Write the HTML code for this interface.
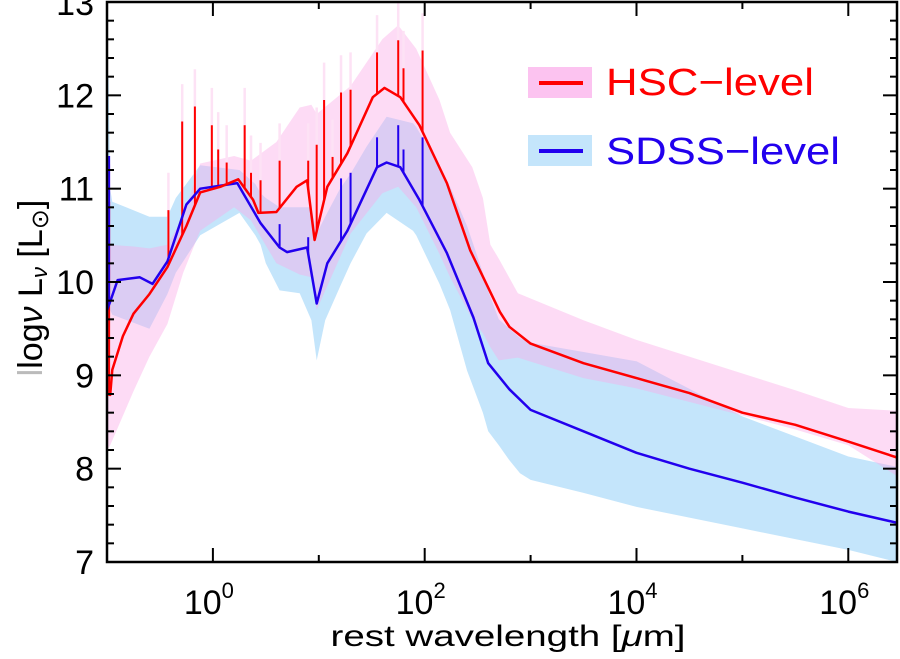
<!DOCTYPE html>
<html><head><meta charset="utf-8"><style>
html,body{margin:0;padding:0;background:#fff;}
svg{display:block;font-family:"Liberation Sans",sans-serif;}
</style></head><body>
<svg id="chart" width="900" height="659" viewBox="0 0 900 659">
<g id="bands"></g>
<g id="spikes"></g>
<g id="lines"></g>
<g id="axes"></g>
<g>
  <rect x="528" y="67" width="64" height="31" fill="#fcc3f0"/>
  <line x1="539" y1="83" x2="583" y2="83" stroke="#ff0000" stroke-width="4"/>
  <text x="606" y="95" font-size="38" fill="#ff0000" textLength="208" lengthAdjust="spacingAndGlyphs">HSC−level</text>
  <rect x="528" y="135" width="64" height="31" fill="#c4e5fb"/>
  <line x1="539" y1="151" x2="583" y2="151" stroke="#2200ee" stroke-width="4"/>
  <text x="606" y="164" font-size="38" fill="#2200ee" textLength="234" lengthAdjust="spacingAndGlyphs">SDSS−level</text>
</g>
<text x="508" y="646" font-size="30" text-anchor="middle" fill="#000" textLength="355" lengthAdjust="spacingAndGlyphs">rest wavelength [<tspan font-style="italic">μ</tspan>m]</text>
<text transform="translate(42,288) rotate(-90)" font-size="34" text-anchor="middle" fill="#000"><tspan fill="#bbb">l</tspan>log<tspan font-style="italic">ν</tspan> L<tspan font-size="22" dy="5" font-style="italic">ν</tspan><tspan dy="-5"> [L</tspan><tspan font-size="24" dy="6">⊙</tspan><tspan dy="-6">]</tspan></text>
</svg>
<script>
// log10(wavelength/µm) grids and values
const hscX = [-1,-0.97,-0.95,-0.85,-0.75,-0.6,-0.43,-0.25,-0.12,0.07,0.24,0.38,0.43,0.6,0.79,0.89,0.96,1.08,1.27,1.51,1.62,1.77,1.95,2.21,2.43,2.71,2.8,3.0,3.5,4.0,4.5,5.0,5.5,6.0,6.46];
const hscY = [8.8,8.79,9.06,9.42,9.66,9.87,10.16,10.6,10.96,11.02,11.1,10.88,10.74,10.75,11.02,11.09,10.45,11.02,11.38,11.98,12.08,11.98,11.68,11.06,10.34,9.68,9.52,9.34,9.13,8.97,8.81,8.6,8.47,8.29,8.12];
const sdssX = [-1,-0.97,-0.9,-0.69,-0.57,-0.43,-0.25,-0.12,0.23,0.45,0.63,0.7,0.89,0.98,1.08,1.27,1.55,1.64,1.77,1.95,2.21,2.46,2.6,2.8,3.0,3.5,4.0,4.5,5.0,5.5,6.0,6.46];
const sdssY = [9.7,9.79,10.02,10.05,9.98,10.22,10.83,11.0,11.06,10.63,10.37,10.32,10.37,9.77,10.2,10.55,11.23,11.28,11.23,10.88,10.31,9.62,9.13,8.85,8.63,8.4,8.17,8.0,7.85,7.69,7.54,7.42];
const hscBandX = [-1,-0.97,-0.75,-0.6,-0.43,-0.28,-0.12,0.2,0.36,0.6,0.82,0.93,0.98,1.3,1.6,1.75,1.92,2.14,2.24,2.45,2.55,2.62,2.7,2.88,3.5,4.0,5.0,5.5,6.0,6.46];
const hscBandHi = [10.4,10.4,10.38,10.36,10.4,10.7,11.27,11.35,11.3,11.5,11.87,11.9,11.8,12.1,12.6,12.75,12.5,11.95,11.6,11.23,10.9,10.4,10.25,9.88,9.59,9.38,9.02,8.84,8.65,8.62];
const hscBandLo = [8.2,8.25,8.83,9.2,9.55,10.1,10.55,10.8,10.66,10.2,10.08,10.05,9.7,10.52,10.95,11.02,10.8,10.3,10.05,9.6,9.45,9.3,9.16,9.19,8.97,8.86,8.57,8.42,8.25,7.92];
const sdssBandX = [-1,-0.985,-0.97,-0.95,-0.6,-0.43,-0.35,-0.12,0.25,0.4,0.45,0.5,0.63,0.82,0.93,0.98,1.06,1.2,1.3,1.45,1.64,1.89,1.92,2.14,2.24,2.4,2.55,2.6,2.7,2.8,2.9,3.0,3.5,4.0,5.0,6.0,6.46];
const sdssBandHi = [12.2,12.2,11.0,10.86,10.7,10.7,10.9,11.25,11.2,11.05,10.95,10.9,10.8,10.8,10.8,10.52,10.7,11.0,11.16,11.45,11.77,11.7,11.66,11.25,11.02,10.6,10.1,9.9,9.6,9.5,9.4,9.35,9.25,9.15,8.56,8.13,8.02];
const sdssBandLo = [9.7,9.7,9.7,9.65,9.5,9.87,10.1,10.5,10.74,10.5,10.4,10.2,9.91,9.88,9.59,9.16,9.59,9.95,10.2,10.52,10.74,10.55,10.5,9.98,9.7,9.05,8.6,8.4,8.25,8.09,7.95,7.88,7.74,7.59,7.36,7.13,7.0];
// emission-line spikes
const hscSpikeX = [-0.98,-0.42,-0.29,-0.17,-0.01,0.05,0.13,0.3,0.36,0.45,0.63,0.9,0.98,1.05,1.13,1.21,1.3,1.55,1.75,1.8,1.98];
const hscSpikeTop = [10.86,10.77,11.72,11.88,11.68,11.42,11.28,11.68,11.17,11.09,11.3,11.3,11.47,11.95,11.34,12.03,12.06,12.46,12.59,12.29,12.48];
const sdssSpikeX = [-0.98,0.63,0.9,1.21,1.3,1.55,1.75,1.8,1.98];
const sdssSpikeTop = [11.35,10.62,10.48,11.11,11.17,11.55,11.68,11.42,11.55];
const xTickExp = [0,2,4,6];
const yTickVals = [7,8,9,10,11,12,13];

const L=107,R=897,T=2,B=562;
const X0=-1.0,X1=6.46,Y0=7,Y1=13;
const sx=v=>L+(v-X0)/(X1-X0)*(R-L);
const sy=v=>B-(v-Y0)/(Y1-Y0)*(B-T);
const NS='http://www.w3.org/2000/svg';
function mk(tag,attrs,parent){const e=document.createElementNS(NS,tag);for(const k in attrs)e.setAttribute(k,attrs[k]);parent.appendChild(e);return e;}
function interp(xs,ys,x){if(x<=xs[0])return ys[0];for(let i=1;i<xs.length;i++){if(x<=xs[i]){const t=(x-xs[i-1])/(xs[i]-xs[i-1]);return ys[i-1]+t*(ys[i]-ys[i-1]);}}return ys[ys.length-1];}
function bandPath(xs,hi,lo){let d='';xs.forEach((x,i)=>{d+=(i?'L':'M')+sx(x).toFixed(1)+','+sy(hi[i]).toFixed(1);});for(let i=xs.length-1;i>=0;i--)d+='L'+sx(xs[i]).toFixed(1)+','+sy(lo[i]).toFixed(1);return d+'Z';}
function linePath(xs,ys){return xs.map((x,i)=>(i?'L':'M')+sx(x).toFixed(1)+','+sy(ys[i]).toFixed(1)).join('');}

const svg=document.getElementById('chart');
const defs=mk('defs',{},svg);
const cp=mk('clipPath',{id:'clip'},defs);
mk('rect',{x:L,y:T,width:R-L,height:B-T},cp);
const bands=document.getElementById('bands');bands.setAttribute('clip-path','url(#clip)');
const spikes=document.getElementById('spikes');spikes.setAttribute('clip-path','url(#clip)');
const lines=document.getElementById('lines');lines.setAttribute('clip-path','url(#clip)');

const sb=mk('path',{d:bandPath(sdssBandX,sdssBandHi,sdssBandLo),fill:'#c4e5fb'},bands);


const hb=mk('path',{d:bandPath(hscBandX,hscBandHi,hscBandLo),fill:'rgb(250,170,232)','fill-opacity':'0.42'},bands);



hscSpikeX.forEach((x,i)=>{
  const base=interp(hscX,hscY,x);
  const p=mk('line',{x1:sx(x),x2:sx(x),y1:sy(base),y2:sy(hscSpikeTop[i]+0.4),stroke:'#fde2f5','stroke-width':2.5},spikes);
  
  
});
hscSpikeX.forEach((x,i)=>{
  const base=interp(hscX,hscY,x);
  const s=mk('line',{x1:sx(x),x2:sx(x),y1:sy(base),y2:sy(hscSpikeTop[i]),stroke:'#ff0000','stroke-width':2},spikes);
  
  
});
sdssSpikeX.forEach((x,i)=>{
  const base=interp(sdssX,sdssY,x);
  const s=mk('line',{x1:sx(x),x2:sx(x),y1:sy(base),y2:sy(sdssSpikeTop[i]),stroke:'#2200ee','stroke-width':2},spikes);
  
  
});
const sl=mk('path',{d:linePath(sdssX,sdssY),fill:'none',stroke:'#2200ee','stroke-width':2.5,'stroke-linejoin':'round'},lines);


const hl=mk('path',{d:linePath(hscX,hscY),fill:'none',stroke:'#ff0000','stroke-width':2.5,'stroke-linejoin':'round'},lines);



const axes=document.getElementById('axes');
const frame=mk('rect',{x:L,y:T,width:R-L,height:B-T,fill:'none',stroke:'#000','stroke-width':2.5},axes);


for(let e=-1;e<=6;e++){
  const x=sx(e);if(x<L||x>R)continue;
  const len=(e%2===0)?14:7;
  mk('line',{x1:x,x2:x,y1:B,y2:B-len,stroke:'#000','stroke-width':2},axes);
  mk('line',{x1:x,x2:x,y1:T,y2:T+len,stroke:'#000','stroke-width':2},axes);
}
xTickExp.forEach(e=>{
  const t=mk('text',{x:sx(e)-4,y:614,'font-size':34,'text-anchor':'middle',fill:'#000'},axes);
  
  
  t.textContent='10';
  const s=mk('tspan',{'font-size':22,dy:-16},t);s.textContent=String(e);
});
for(let v=Y0;v<=Y1+1e-6;v+=0.2){
  const major=Math.abs(v-Math.round(v))<1e-6;
  const len=major?14:7;const y=sy(v);
  mk('line',{x1:L,x2:L+len,y1:y,y2:y,stroke:'#000','stroke-width':2},axes);
  mk('line',{x1:R,x2:R-len,y1:y,y2:y,stroke:'#000','stroke-width':2},axes);
}
yTickVals.forEach(v=>{
  const t=mk('text',{x:94,y:sy(v)+(v===13?13:12),'font-size':34,'text-anchor':'end',fill:'#000'},axes);
  
  
  t.textContent=String(v);
});
</script>
</body></html>
